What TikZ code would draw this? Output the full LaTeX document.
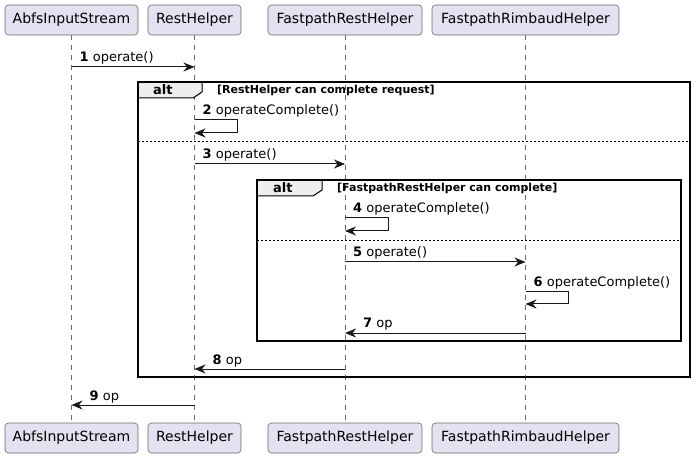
\documentclass[tikz,border=0pt]{standalone}
\usepackage{fontspec}
\setmainfont{DejaVu Sans}
\usetikzlibrary{arrows.meta,calc}
\definecolor{partfill}{HTML}{E2E2F0}
\definecolor{partdraw}{HTML}{181818}
\definecolor{tabfill}{HTML}{EEEEEE}
\begin{document}
\begin{tikzpicture}[x=1bp,y=-1bp,
  part/.style={draw=partdraw!65,fill=partfill,rounded corners=3.5bp,line width=0.6bp,
    minimum height=30bp,inner sep=0pt,font=\fontsize{14bp}{16bp}\selectfont},
  life/.style={draw=partdraw!65,line width=0.5bp,dash pattern=on 5bp off 5bp},
  msg/.style={draw=partdraw,line width=1bp,-{Stealth[length=11bp,width=9bp,inset=3.5bp]}},
  lbl/.style={anchor=base west,inner sep=0pt,font=\fontsize{13bp}{15bp}\selectfont},
  frame/.style={draw=black,line width=1.5bp},
  tab/.style={draw=black,fill=tabfill,line width=1bp},
  sep/.style={draw=black,line width=1bp,dash pattern=on 2bp off 2bp},
  alttxt/.style={anchor=base west,inner sep=0pt,font=\fontsize{13bp}{15bp}\selectfont\bfseries},
  cond/.style={anchor=base west,inner sep=0pt,font=\fontsize{11bp}{13bp}\selectfont\bfseries}]
\useasboundingbox (0,0) rectangle (696,458);
% participants
\node[part,minimum width=133bp] (a1) at (71.5,20) {AbfsInputStream};
\node[part,minimum width=93bp]  (a2) at (194.5,20) {RestHelper};
\node[part,minimum width=154bp] (a3) at (345,20) {FastpathRestHelper};
\node[part,minimum width=187bp] (a4) at (525.5,20) {FastpathRimbaudHelper};
\node[part,minimum width=133bp] (b1) at (71.5,438) {AbfsInputStream};
\node[part,minimum width=93bp]  (b2) at (194.5,438) {RestHelper};
\node[part,minimum width=154bp] (b3) at (345,438) {FastpathRestHelper};
\node[part,minimum width=187bp] (b4) at (525.5,438) {FastpathRimbaudHelper};
% lifelines
\draw[life] (a1.south) -- (b1.north);
\draw[life] (a2.south) -- (b2.north);
\draw[life] (a3.south) -- (b3.north);
\draw[life] (a4.south) -- (b4.north);
% outer alt frame
\draw[tab] (138,82) -- (202,82) -- (202,92) -- (193,98) -- (138,98) -- cycle;
\draw[frame] (138,82) rectangle (690,377);
\node[alttxt] at (153,95) {alt};
\node[cond] at (217,94) {[RestHelper can complete request]};
\draw[sep] (138,142) -- (690,142);
% inner alt frame
\draw[tab] (257,180) -- (322,180) -- (322,190) -- (313,196) -- (257,196) -- cycle;
\draw[frame] (257,180) rectangle (681,341);
\node[alttxt] at (273,193) {alt};
\node[cond] at (337,192) {[FastpathRestHelper can complete]};
\draw[sep] (257,241) -- (681,241);
% message 1
\draw[msg] (a1 |- 0,67) -- (a2 |- 0,67);
\node[lbl] at ($(a1 |- 0,62)+(8,0)$) {\textbf{1} operate()};
% message 2 (self)
\draw[msg] (a2 |- 0,120) -- ++(43,0) -- ++(0,13) -- (a2 |- 0,133);
\node[lbl] at ($(a2 |- 0,115)+(8,0)$) {\textbf{2} operateComplete()};
% message 3
\draw[msg] (a2 |- 0,164) -- (a3 |- 0,164);
\node[lbl] at ($(a2 |- 0,159)+(8,0)$) {\textbf{3} operate()};
% message 4 (self)
\draw[msg] (a3 |- 0,218) -- ++(43,0) -- ++(0,13) -- (a3 |- 0,231);
\node[lbl] at ($(a3 |- 0,213)+(8,0)$) {\textbf{4} operateComplete()};
% message 5
\draw[msg] (a3 |- 0,262) -- (a4 |- 0,262);
\node[lbl] at ($(a3 |- 0,257)+(8,0)$) {\textbf{5} operate()};
% message 6 (self)
\draw[msg] (a4 |- 0,292) -- ++(43,0) -- ++(0,12) -- (a4 |- 0,304);
\node[lbl] at ($(a4 |- 0,287)+(8,0)$) {\textbf{6} operateComplete()};
% message 7
\draw[msg] (a4 |- 0,333) -- (a3 |- 0,333);
\node[lbl] at ($(a3 |- 0,328)+(18,0)$) {\textbf{7} op};
% message 8
\draw[msg] (a3 |- 0,369) -- (a2 |- 0,369);
\node[lbl] at ($(a2 |- 0,364)+(18,0)$) {\textbf{8} op};
% message 9
\draw[msg] (a2 |- 0,405) -- (a1 |- 0,405);
\node[lbl] at ($(a1 |- 0,400)+(18,0)$) {\textbf{9} op};
\end{tikzpicture}
\end{document}
